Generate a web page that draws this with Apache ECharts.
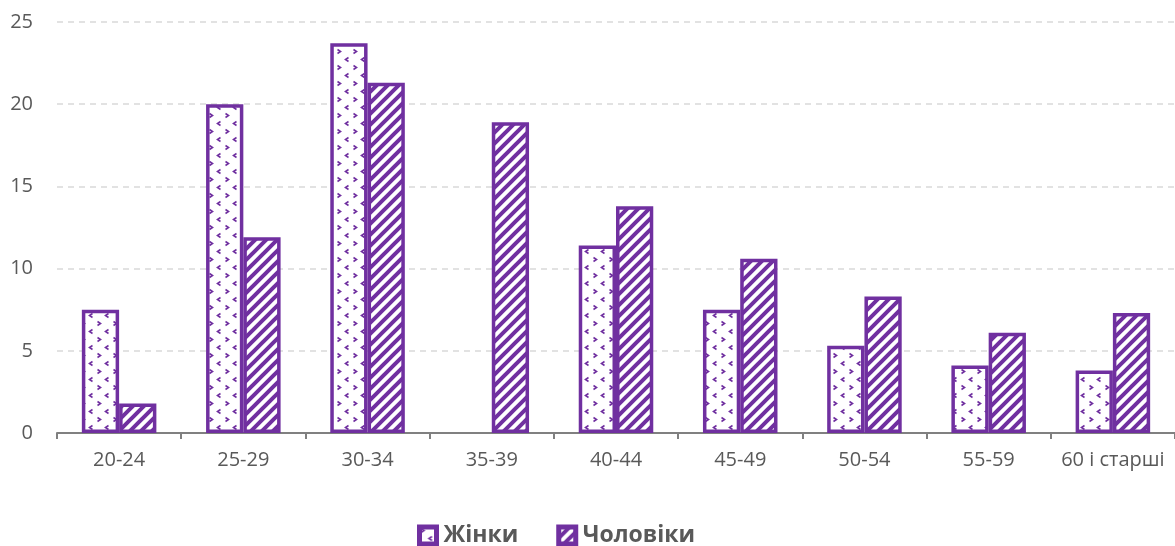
<!DOCTYPE html>
<html>
<head>
<meta charset="utf-8">
<script src="https://cdn.jsdelivr.net/npm/echarts@6/dist/echarts.min.js"></script>
<style>
html,body{margin:0;padding:0;background:#fff;}
#chart{width:1175px;height:546px;}
</style>
</head>
<body>
<div id="chart"></div>
<script>
var categories = ['20-24','25-29','30-34','35-39','40-44','45-49','50-54','55-59','60 і старші']
var women = [7.5, 20.0, 23.7, '-', 11.4, 7.5, 5.3, 4.1, 3.8]
var men = [1.8, 11.9, 21.3, 18.9, 13.8, 10.6, 8.3, 6.1, 7.3]
var purple = '#7030A0'

//斜线填充
function stripes(){
  var c = document.createElement('canvas')
  c.width = 11; c.height = 11
  var ctx = c.getContext('2d')
  ctx.fillStyle = '#fff'
  ctx.fillRect(0,0,11,11)
  ctx.strokeStyle = purple
  ctx.lineWidth = 4
  ctx.beginPath()
  ctx.moveTo(-2,13); ctx.lineTo(13,-2)
  ctx.moveTo(-8,8); ctx.lineTo(8,-8)
  ctx.moveTo(3,19); ctx.lineTo(19,3)
  ctx.stroke()
  return c
}

//点状填充
function dots(){
  var c = document.createElement('canvas')
  c.width = 16; c.height = 16
  var ctx = c.getContext('2d')
  ctx.fillStyle = '#fff'
  ctx.fillRect(0,0,16,16)
  ctx.strokeStyle = purple
  ctx.lineWidth = 1.6
  ctx.beginPath()
  ctx.moveTo(1.5,1.5); ctx.lineTo(4.5,3.5); ctx.lineTo(1.5,5.5)
  ctx.moveTo(12.5,9.5); ctx.lineTo(9.5,11.5); ctx.lineTo(12.5,13.5)
  ctx.stroke()
  return c
}

var chart = echarts.init(document.getElementById('chart'))
var option = {
  animation: false,
  textStyle: { fontFamily: 'Open Sans' },
  grid: { left: 57, right: 0, top: 22, bottom: 113 },
  legend: {
    top: 519,
    left: 412,
    icon: 'rect',
    itemWidth: 17,
    itemHeight: 17,
    itemGap: 38,
    itemStyle: { borderWidth: 5, borderColor: purple },
    textStyle: { fontSize: 23, fontWeight: 'bold', color: '#595959', padding: [0,0,0,2] },
    data: ['Жінки','Чоловіки']
  },
  xAxis: {
    type: 'category',
    data: categories,
    axisLine: { lineStyle: { color: '#808080', width: 2 } },
    axisTick: { show: true, interval: 0, length: 6, lineStyle: { color: '#808080', width: 2 } },
    axisLabel: { color: '#595959', fontSize: 20, margin: 17, interval: 0 }
  },
  yAxis: {
    type: 'value',
    min: 0, max: 25, interval: 5,
    axisLine: { show: false },
    axisTick: { show: false },
    axisLabel: { color: '#595959', fontSize: 20, margin: 24 },
    splitLine: { lineStyle: { color: '#d9d9d9', type: [6,5], width: 1.5 } }
  },
  series: [
    {
      name: 'Жінки',
      type: 'bar',
      data: women,
      barWidth: '30%',
      barGap: '0%',
      itemStyle: { color: { image: dots(), repeat: 'repeat' }, borderColor: purple, borderWidth: 3.5 }
    },
    {
      name: 'Чоловіки',
      type: 'bar',
      data: men,
      barWidth: '30%',
      itemStyle: { color: { image: stripes(), repeat: 'repeat' }, borderColor: purple, borderWidth: 3.5 }
    }
  ]
}
chart.setOption(option)
</script>
</body>
</html>
